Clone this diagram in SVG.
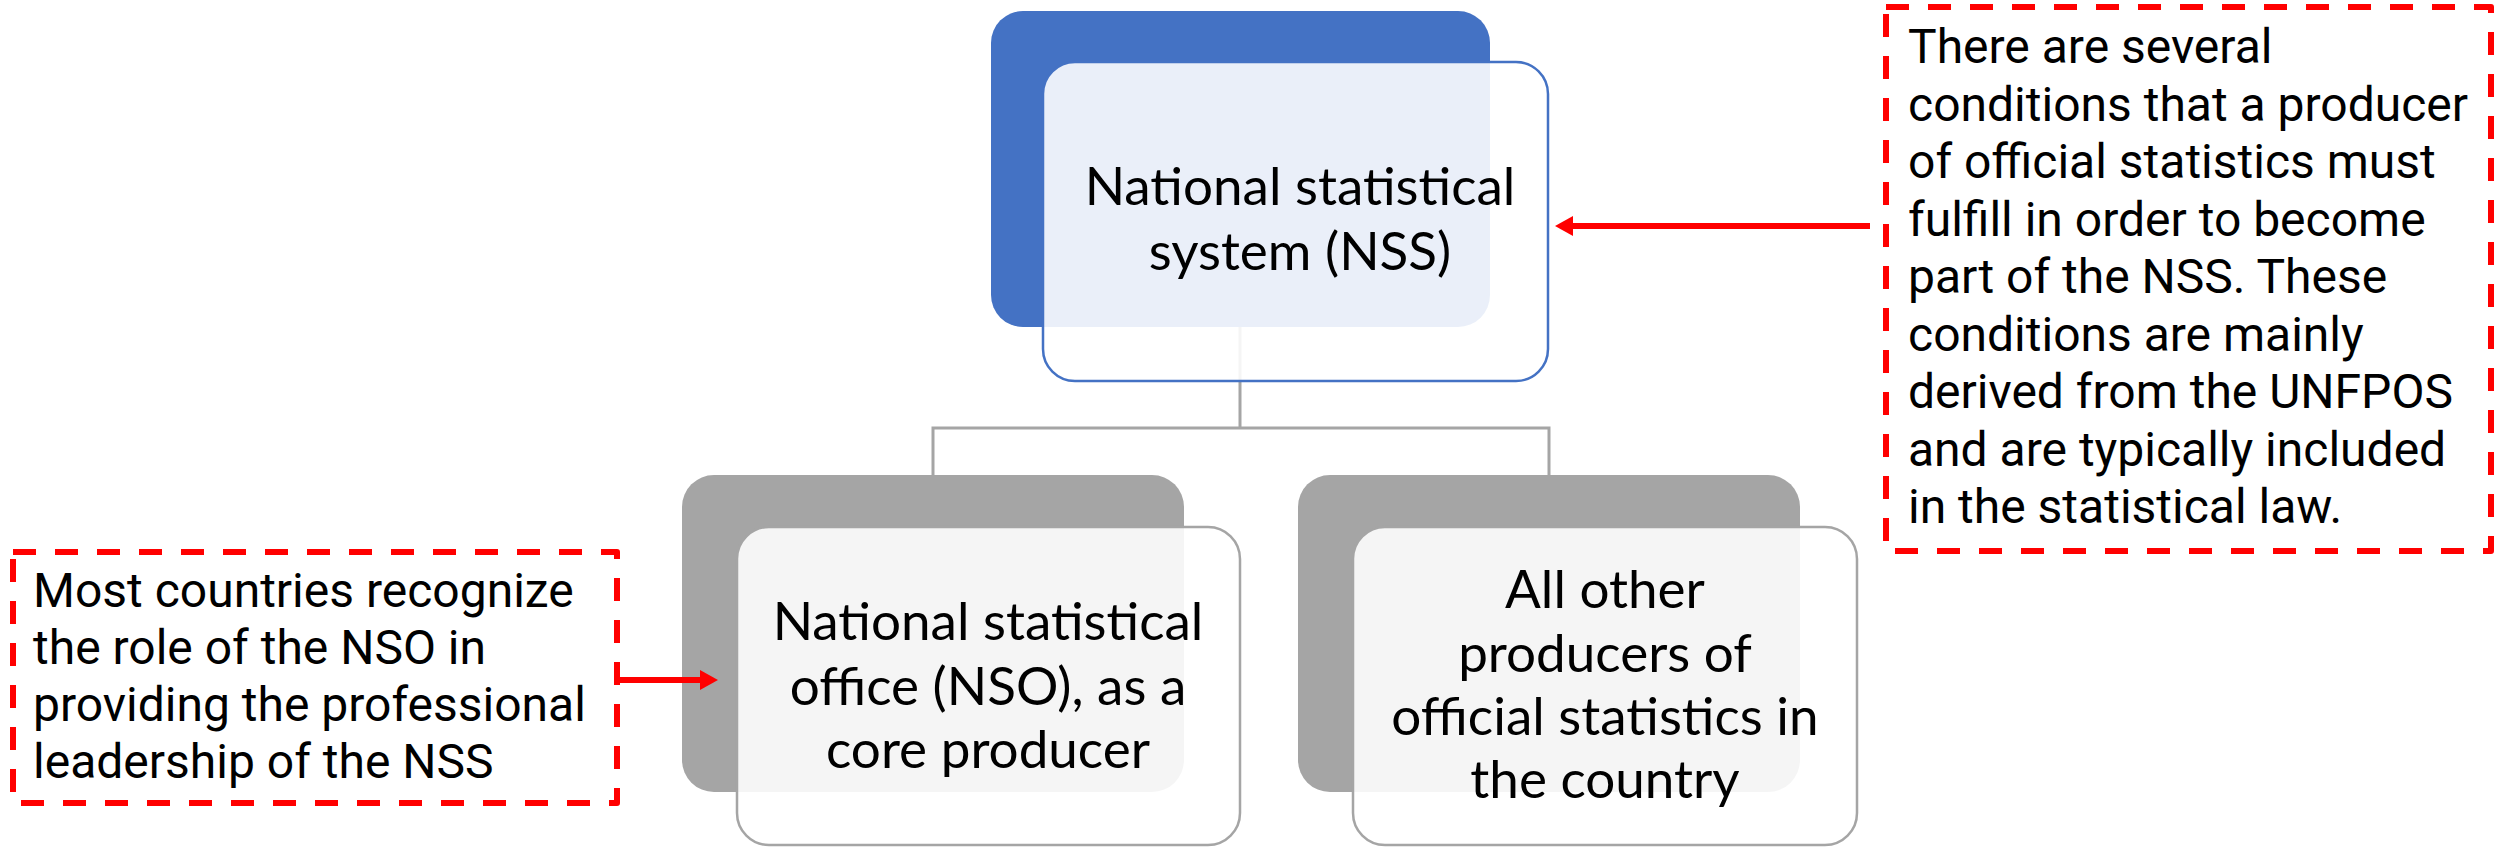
<svg xmlns="http://www.w3.org/2000/svg" width="2498" height="847" viewBox="0 0 2498 847">
<defs>
<style>
.bg{fill:#ffffff}
.conn{fill:none;stroke:#A5A5A5;stroke-width:3}
.backBlue{fill:#4472C4}
.backGray{fill:#A5A5A5}
.frontBlue{fill:#ffffff;fill-opacity:0.89;stroke:#4472C4;stroke-width:2.5}
.frontGray{fill:#ffffff;fill-opacity:0.89;stroke:#A5A5A5;stroke-width:2.5}
.nodeText{font-family:Lato,"Open Sans","Liberation Sans",sans-serif;font-size:53px;fill:#000000;text-anchor:middle}
.noteBox{fill:none;stroke:#FF0000;stroke-width:6;stroke-dasharray:23 19;stroke-linejoin:round}
.noteText{font-family:Roboto,"Liberation Sans",sans-serif;font-size:48px;fill:#000000}
.arrow{fill:none;stroke:#FF0000;stroke-width:6}
</style>
<marker id="ah" viewBox="0 0 18 20" refX="0" refY="10" markerWidth="18" markerHeight="20" markerUnits="userSpaceOnUse" orient="auto">
<path d="M0,0 L18,10 L0,20 z" fill="#FF0000"/>
</marker>
</defs>
<rect class="bg" x="0" y="0" width="2498" height="847"/>

<g id="connectors">
<path class="conn" d="M1240,327 V428"/>
<path class="conn" d="M933,475 V428 H1549 V475"/>
</g>

<g id="node-nss">
<rect class="backBlue" x="991" y="11" width="499" height="316" rx="32"/>
<rect class="frontBlue" x="1043" y="62" width="505" height="319" rx="32"/>
<text class="nodeText" x="1300" y="205">National statistical</text>
<text class="nodeText" x="1300" y="270">system (NSS)</text>
</g>

<g id="node-nso">
<rect class="backGray" x="682" y="475" width="502" height="317" rx="32"/>
<rect class="frontGray" x="737" y="527" width="503" height="318" rx="32"/>
<text class="nodeText" x="988" y="640">National statistical</text>
<text class="nodeText" x="988" y="705">office (NSO), as a</text>
<text class="nodeText" x="988" y="768">core producer</text>
</g>

<g id="node-others">
<rect class="backGray" x="1298" y="475" width="502" height="317" rx="32"/>
<rect class="frontGray" x="1353" y="527" width="504" height="318" rx="32"/>
<text class="nodeText" x="1605" y="608">All other</text>
<text class="nodeText" x="1605" y="672">producers of</text>
<text class="nodeText" x="1605" y="735">official statistics in</text>
<text class="nodeText" x="1605" y="798">the country</text>
</g>

<g id="note-conditions">
<rect class="noteBox" x="1886" y="7" width="605" height="544"/>
<text class="noteText" x="1908" y="63">There are several</text>
<text class="noteText" x="1908" y="120.5">conditions that a producer</text>
<text class="noteText" x="1908" y="178">of official statistics must</text>
<text class="noteText" x="1908" y="235.5">fulfill in order to become</text>
<text class="noteText" x="1908" y="293">part of the NSS. These</text>
<text class="noteText" x="1908" y="350.5">conditions are mainly</text>
<text class="noteText" x="1908" y="408">derived from the UNFPOS</text>
<text class="noteText" x="1908" y="465.5">and are typically included</text>
<text class="noteText" x="1908" y="523">in the statistical law.</text>
</g>

<g id="note-nso">
<rect class="noteBox" x="13" y="552" width="604" height="251"/>
<text class="noteText" x="33" y="607">Most countries recognize</text>
<text class="noteText" x="33" y="664">the role of the NSO in</text>
<text class="noteText" x="33" y="721">providing the professional</text>
<text class="noteText" x="33" y="778">leadership of the NSS</text>
</g>

<g id="annotation-arrows">
<path class="arrow" d="M1870,226 H1573" marker-end="url(#ah)"/>
<path class="arrow" d="M617,680 H700" marker-end="url(#ah)"/>
</g>
</svg>
